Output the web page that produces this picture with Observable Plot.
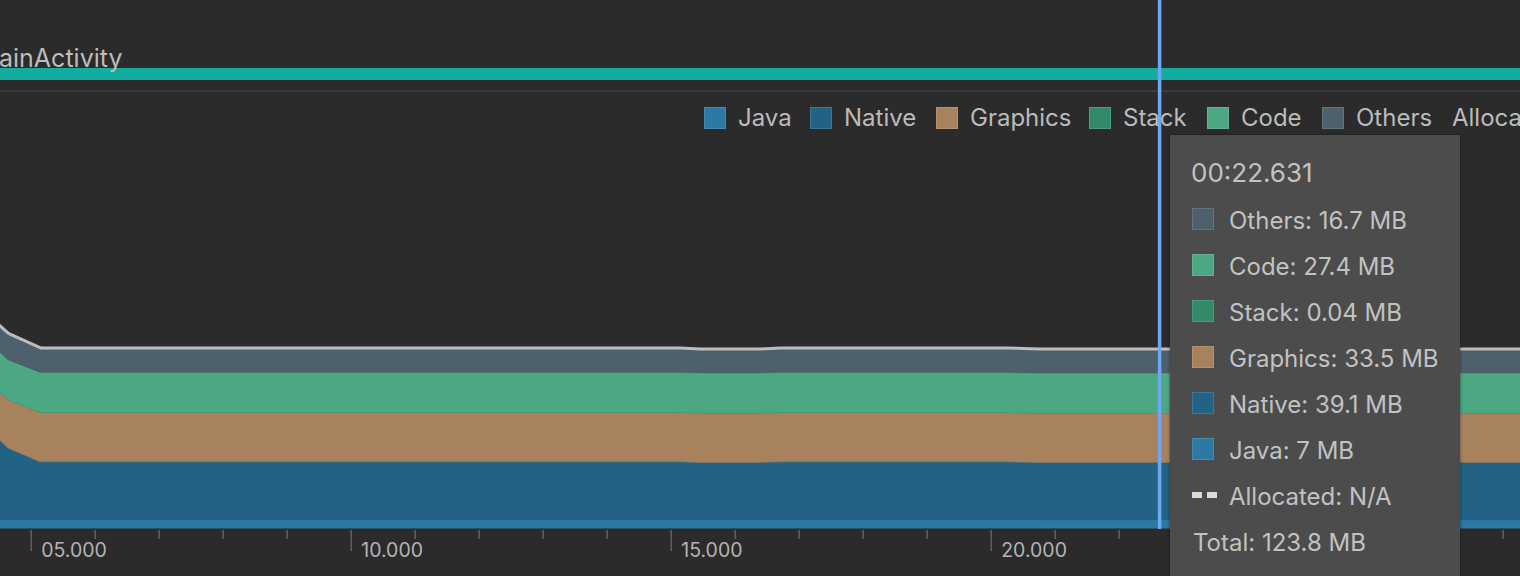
<!DOCTYPE html>
<html><head><meta charset="utf-8">
<script src="https://cdn.jsdelivr.net/npm/d3@7"></script>
<script src="https://cdn.jsdelivr.net/npm/@observablehq/plot@0.6"></script>
<style>
html,body{margin:0;padding:0;background:#2b2b2b;}
body{width:1520px;height:576px;position:relative;overflow:hidden;font-family:Inter,"Noto Sans",sans-serif;color:#bbbbbb;}
.abs{position:absolute;}
#activity{left:-1px;top:46px;font-size:25px;line-height:25px;white-space:nowrap;color:#bdbdbd;z-index:2;}
#bar{left:0;top:68px;width:1520px;height:12px;background:#12ad9f;z-index:1;}
#sep{left:0;top:90px;width:1520px;height:2px;background:#3b3b3b;}
.sw{position:absolute;width:22px;height:22px;box-sizing:border-box;border:1px solid rgba(255,255,255,0.13);}
.lg{position:absolute;font-size:24px;line-height:24px;white-space:nowrap;color:#bbbbbb;}
#chart{left:0;top:0;z-index:3;}
#tip{left:1170px;top:135px;width:290px;height:441px;background:#4b4c4b;box-shadow:0 0 3px rgba(0,0,0,0.5);z-index:4;}
.tt{position:absolute;font-size:24px;line-height:24px;white-space:nowrap;color:#c2c2c2;}
</style></head>
<body>
<div id="activity" class="abs">ainActivity</div>
<div id="bar" class="abs"></div>
<div id="sep" class="abs"></div>
<div id="legend" class="abs" style="left:0;top:0;"></div>
<div id="chart" class="abs"></div>
<div id="tip" class="abs"></div>
<script>
// ---- data (MB) ----
const seriesNames  = ["Java", "Native", "Graphics", "Stack", "Code", "Others"];
const seriesColors = ["#2a7aa3", "#226385", "#a8825d", "#318b68", "#4ca882", "#4d606b"];
const times      = [4.145, 4.645, 5.145, 15.14, 15.46, 16.39, 16.70, 20.23, 20.75, 28.30];
const javaMB     = [7.1, 7.1, 7.1, 7.1, 7.1, 7.1, 7.1, 7.1, 7.0, 7.0];
const nativeMB   = [69.6, 48.8, 39.4, 39.4, 39.0, 39.0, 39.4, 39.4, 39.1, 39.1];
const graphicsMB = [32.5, 33.0, 33.7, 33.7, 33.7, 33.7, 33.7, 33.7, 33.5, 33.5];
const stackMB    = [0.04, 0.04, 0.04, 0.04, 0.04, 0.04, 0.04, 0.04, 0.04, 0.04];
const codeMB     = [27.1, 27.1, 27.3, 27.3, 27.3, 27.3, 27.3, 27.3, 27.4, 27.4];
const othersMB   = [17.5, 18.3, 16.9, 16.9, 16.6, 16.6, 16.9, 16.9, 16.7, 16.7];
const seriesValues = [javaMB, nativeMB, graphicsMB, stackMB, codeMB, othersMB];

const majorTicks  = [5, 10, 15, 20, 25];
const labelTicks  = [5, 10, 15, 20];            // 25 is hidden under the tooltip
const majorLabels = ["05.000", "10.000", "15.000", "20.000"];
const minorTicks  = [6,7,8,9,11,12,13,14,16,17,18,19,21,22,23,24,26,27,28];

const cursorTime  = 22.631;
const cursorLabel = "00:22.631";
const cursorTotal = 123.8;
const legendNames = ["Java", "Native", "Graphics", "Stack", "Code", "Others", "Allocated"];

// ---- chart ----
const rows = [];
times.forEach((t, i) => seriesNames.forEach((s, j) => rows.push({t, series: s, mb: seriesValues[j][i]})));
const totals = times.map((t, i) => ({t, total: d3.sum(seriesValues, v => v[i])}));

const chart = Plot.plot({
  width: 1520, height: 576,
  marginTop: 90, marginBottom: 46, marginLeft: 0, marginRight: 0,
  style: {background: "transparent", fontFamily: "Inter, 'Noto Sans', sans-serif"},
  x: {domain: [4.52, 28.27], label: null},
  y: {domain: [0, 300], axis: null},
  color: {domain: seriesNames, range: seriesColors},
  marks: [
    Plot.areaY(rows, {x: "t", y: "mb", z: "series", fill: "series", stroke: "series", strokeWidth: 0.5, order: seriesNames, clip: true}),
    Plot.lineY(totals, {x: "t", y: "total", stroke: "#bdbdbd", strokeWidth: 3, clip: true}),
    Plot.ruleY([0], {stroke: "#2b2b2b", strokeWidth: 2, dy: -1}),
    Plot.axisX({ticks: minorTicks, tickSize: 9, tickFormat: () => "", label: null, stroke: "#5f5f5f", strokeWidth: 1.5}),
    Plot.axisX({ticks: majorTicks, tickSize: 21, tickFormat: () => "", label: null, stroke: "#5f5f5f", strokeWidth: 1.5}),
    Plot.text(labelTicks, {x: d => d, text: (d, i) => majorLabels[i], frameAnchor: "bottom", dy: 26, dx: 10, textAnchor: "start", fill: "#b4b4b4", fontSize: 19.5}),
    Plot.ruleX([cursorTime], {stroke: "#6fa8f2", strokeWidth: 3.5, insetTop: -90, insetBottom: 1})
  ]
});
document.getElementById("chart").appendChild(chart);

// ---- legend ----
const legendX = [704, 810, 936, 1089, 1207, 1322, 1452];
const legend = document.getElementById("legend");
legendNames.forEach((name, i) => {
  const j = seriesNames.indexOf(name);
  let x = legendX[i];
  if (j >= 0) {
    const sw = document.createElement("div");
    sw.className = "sw";
    sw.style.left = x + "px"; sw.style.top = "107px"; sw.style.background = seriesColors[j];
    legend.appendChild(sw);
    x += 34;
  }
  const t = document.createElement("div");
  t.className = "lg"; t.textContent = name;
  t.style.left = x + "px"; t.style.top = "106px";
  legend.appendChild(t);
});

// ---- tooltip ----
const tip = document.getElementById("tip");
const last = times.length - 1;
function addText(txt, left, top, size) {
  const d = document.createElement("div");
  d.className = "tt"; d.textContent = txt;
  d.style.left = left + "px"; d.style.top = top + "px";
  if (size) { d.style.fontSize = size + "px"; d.style.lineHeight = size + "px"; }
  tip.appendChild(d);
  return d;
}
addText(cursorLabel, 21, 25, 26);
const order = [5, 4, 3, 2, 1, 0];
order.forEach((j, k) => {
  const cy = 84 + k * 46;
  const sw = document.createElement("div");
  sw.className = "sw";
  sw.style.left = "22px"; sw.style.top = (cy - 11) + "px"; sw.style.background = seriesColors[j];
  tip.appendChild(sw);
  addText(seriesNames[j] + ": " + seriesValues[j][last] + " MB", 59, cy - 10);
});
{
  const cy = 84 + 6 * 46;
  [22, 37].forEach(l => {
    const d = document.createElement("div");
    d.style.cssText = `position:absolute;left:${l}px;top:${cy - 3}px;width:10px;height:6px;background:#dcdcdc;`;
    tip.appendChild(d);
  });
  addText("Allocated: N/A", 59, cy - 10);
}
addText("Total: " + cursorTotal + " MB", 23, 84 + 7 * 46 - 10);
</script>
</body></html>
